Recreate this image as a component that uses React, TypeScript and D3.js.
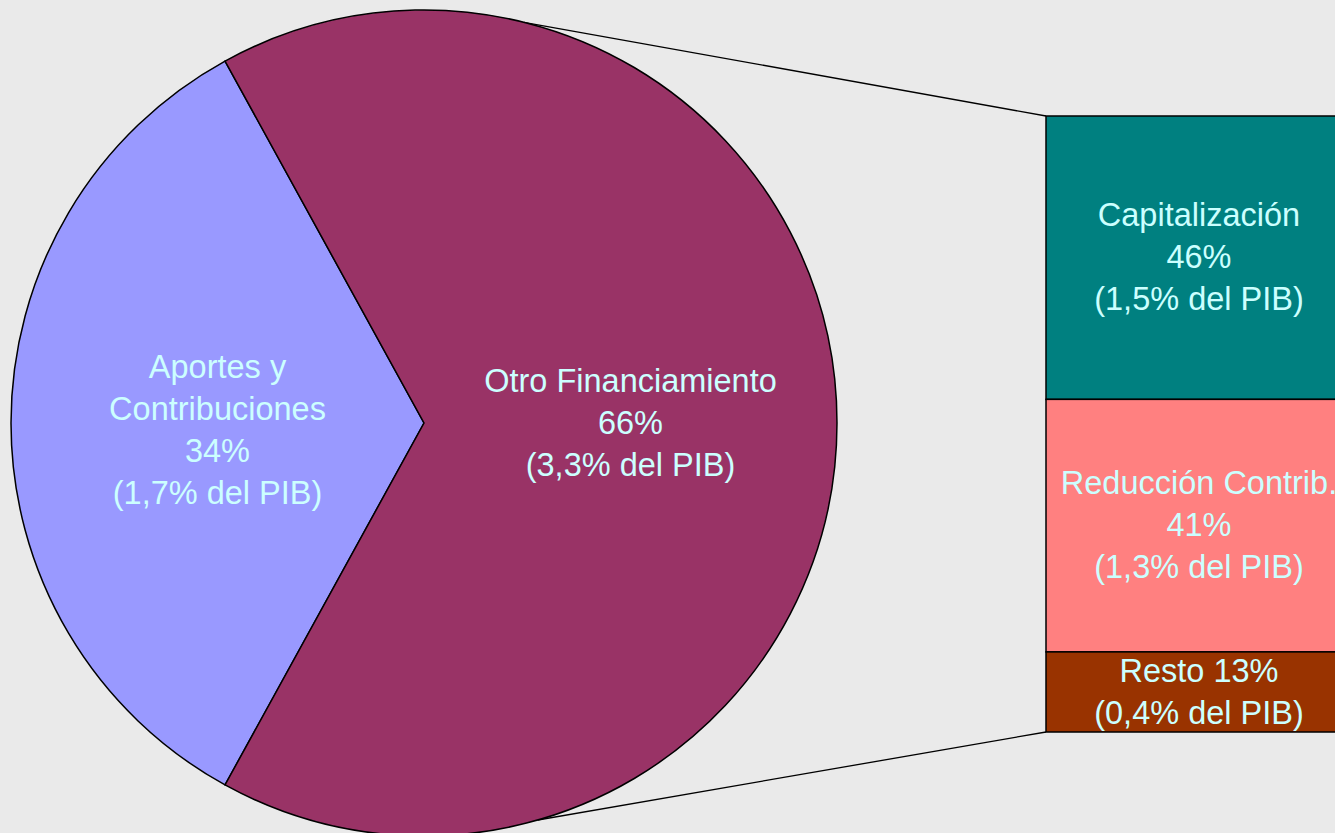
import React from "react";
import * as d3 from "d3";

const pieCategories = ["Aportes y Contribuciones", "Otro Financiamiento"];
const pieValues = [34, 66];
const pieLabels = [
  ["Aportes y", "Contribuciones", "34%", "(1,7% del PIB)"],
  ["Otro Financiamiento", "66%", "(3,3% del PIB)"],
];
const pieColors = ["#9999FF", "#993366"];

const barCategories = ["Capitalización", "Reducción Contrib.", "Resto"];
const barValues = [46, 41, 13];
const barLabels = [
  ["Capitalización", "46%", "(1,5% del PIB)"],
  ["Reducción Contrib.", "41%", "(1,3% del PIB)"],
  ["Resto 13%", "(0,4% del PIB)"],
];
const barColors = ["#008080", "#FF8080", "#993300"];

const W = 1335;
const H = 833;
const cx = 424;
const cy = 423;
const R = 413;
const barX0 = 1046;
const barX1 = 1352;
const barTop = 116;
const barBottom = 732;
const lineH = 42;
const textColor = "#CCFFFF";
const fontSize = 32.5;

export default function App() {
  const total = d3.sum(pieValues);
  const aportesSpan = (pieValues[0] / total) * 2 * Math.PI;
  const start = -Math.PI / 2 - aportesSpan / 2;
  const pie = d3
    .pie<number>()
    .sort(null)
    .value((d) => d)
    .startAngle(start)
    .endAngle(start + 2 * Math.PI);
  const arcs = pie(pieValues);
  const arc = d3.arc<d3.PieArcDatum<number>>().innerRadius(0).outerRadius(R);

  const y = d3.scaleLinear().domain([0, d3.sum(barValues)]).range([barTop, barBottom]);
  let acc = 0;
  const segs = barValues.map((v, i) => {
    const s = { i, y0: y(acc), y1: y(acc + v) };
    acc += v;
    return s;
  });

  const ptOnCircle = (deg: number) => {
    const a = (deg * Math.PI) / 180;
    return [cx + R * Math.sin(a), cy - R * Math.cos(a)];
  };
  const pTop = ptOnCircle(14);
  const pBot = ptOnCircle(164);

  const renderLines = (lines: string[], x: number, yc: number) => {
    const n = lines.length;
    return lines.map((t, k) => (
      <text
        key={k}
        x={x}
        y={yc + (k - (n - 1) / 2) * lineH}
        dy="0.36em"
        textAnchor="middle"
        fill={textColor}
        fontSize={fontSize}
        fontFamily="Liberation Sans, Arial, sans-serif"
      >
        {t}
      </text>
    ));
  };

  return (
    <svg
      width={W}
      height={H}
      style={{ position: "absolute", left: 0, top: 0, background: "#EAEAEA" }}
    >
      <rect x={0} y={0} width={W} height={H} fill="#EAEAEA" />
      <line x1={pTop[0]} y1={pTop[1]} x2={barX0} y2={barTop} stroke="#000" strokeWidth={1.3} />
      <line x1={pBot[0]} y1={pBot[1]} x2={barX0} y2={barBottom} stroke="#000" strokeWidth={1.3} />
      <g transform={`translate(${cx},${cy})`}>
        {arcs.map((a, i) => (
          <path key={pieCategories[i]} d={arc(a) || ""} fill={pieColors[i]} stroke="#000" strokeWidth={1.5} />
        ))}
        {arcs.map((a, i) => {
          const mid = (a.startAngle + a.endAngle) / 2;
          const lx = Math.sin(mid) * R * 0.5;
          const ly = -Math.cos(mid) * R * 0.5 + (i === 0 ? 6 : -1);
          return <g key={"l" + i}>{renderLines(pieLabels[i], lx, ly)}</g>;
        })}
      </g>
      {segs.map((s) => (
        <rect
          key={barCategories[s.i]}
          x={barX0}
          y={s.y0}
          width={barX1 - barX0}
          height={s.y1 - s.y0}
          fill={barColors[s.i]}
          stroke="#000"
          strokeWidth={1.5}
        />
      ))}
      {segs.map((s) => (
        <g key={"bl" + s.i}>{renderLines(barLabels[s.i], (barX0 + barX1) / 2, (s.y0 + s.y1) / 2 - 1)}</g>
      ))}
    </svg>
  );
}
